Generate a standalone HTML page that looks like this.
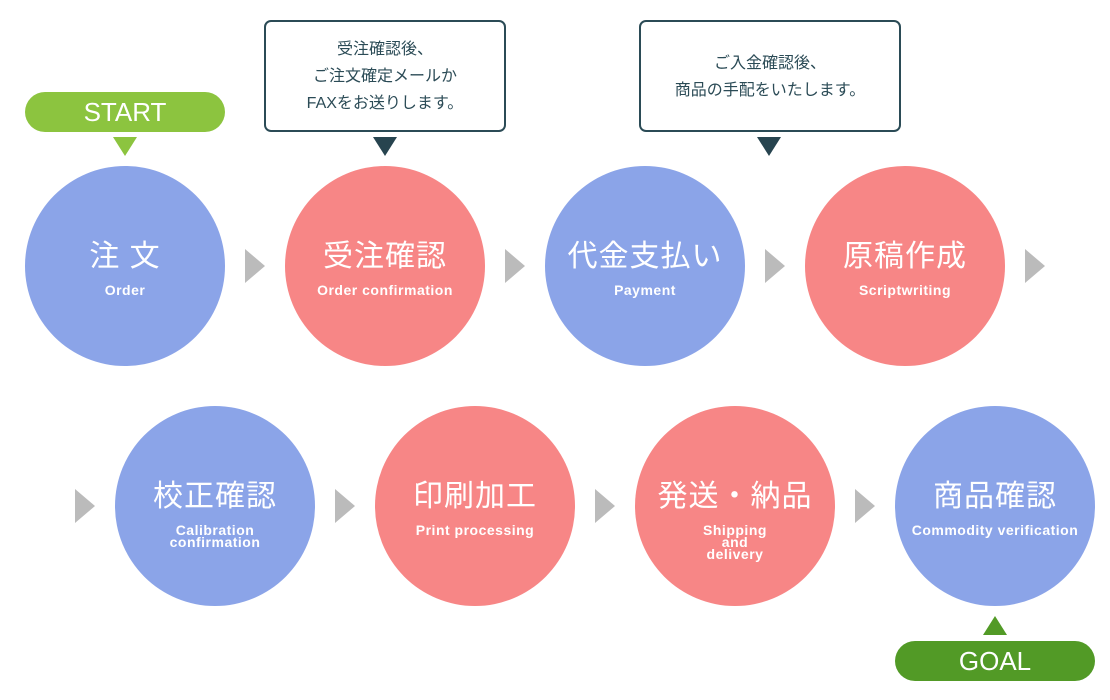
<!DOCTYPE html>
<html><head><meta charset="utf-8"><style>
body{margin:0;width:1110px;height:700px;background:#fff;position:relative;overflow:hidden;font-family:"Liberation Sans","Noto Sans CJK JP",sans-serif}
.a{position:absolute}
.c{position:absolute;width:200px;height:200px;border-radius:50%;color:#fff;text-align:center}
.b{background:#8ba4e8}.p{background:#f78686}
.m{position:absolute;left:0;width:200px;top:71px;font-size:30px;line-height:40px;letter-spacing:1px}
.s{position:absolute;left:0;width:200px;top:118px;font-size:14px;font-weight:bold;line-height:12px;letter-spacing:0.5px}
.ar{position:absolute;width:0;height:0;border-top:17px solid transparent;border-bottom:17px solid transparent;border-left:20px solid #bbb}
.box{position:absolute;border:2px solid #2b4b56;border-radius:7px;background:#fff;color:#2b4b56;font-size:16px;line-height:27px;text-align:center;box-sizing:border-box}
.td{position:absolute;width:0;height:0;border-left:12px solid transparent;border-right:12px solid transparent;border-top:19px solid #27444f}
.pill{position:absolute;width:200px;height:40px;border-radius:20px;color:#fff;font-size:26px;line-height:40px;text-align:center}
</style></head><body>
<div class="pill" style="left:25px;top:92px;background:#8cc43f">START</div>
<div class="td" style="left:113px;top:137px;border-top-color:#8cc43f"></div>
<div class="box" style="left:264px;top:20px;width:242px;height:112px;padding-top:14px">受注確認後、<br>ご注文確定メールか<br>FAXをお送りします。</div>
<div class="td" style="left:373px;top:137px"></div>
<div class="box" style="left:639px;top:20px;width:262px;height:112px;padding-top:28px">ご入金確認後、<br>商品の手配をいたします。</div>
<div class="td" style="left:757px;top:137px"></div>

<div class="c b" style="left:25px;top:166px"><div class="m">注 文</div><div class="s">Order</div></div>
<div class="c p" style="left:285px;top:166px"><div class="m">受注確認</div><div class="s">Order confirmation</div></div>
<div class="c b" style="left:545px;top:166px"><div class="m">代金支払い</div><div class="s">Payment</div></div>
<div class="c p" style="left:805px;top:166px"><div class="m">原稿作成</div><div class="s">Scriptwriting</div></div>
<div class="ar" style="left:245px;top:249px"></div>
<div class="ar" style="left:505px;top:249px"></div>
<div class="ar" style="left:765px;top:249px"></div>
<div class="ar" style="left:1025px;top:249px"></div>

<div class="c b" style="left:115px;top:406px"><div class="m">校正確認</div><div class="s">Calibration<br>confirmation</div></div>
<div class="c p" style="left:375px;top:406px"><div class="m">印刷加工</div><div class="s">Print processing</div></div>
<div class="c p" style="left:635px;top:406px"><div class="m">発送・納品</div><div class="s">Shipping<br>and<br>delivery</div></div>
<div class="c b" style="left:895px;top:406px"><div class="m">商品確認</div><div class="s">Commodity verification</div></div>
<div class="ar" style="left:75px;top:489px"></div>
<div class="ar" style="left:335px;top:489px"></div>
<div class="ar" style="left:595px;top:489px"></div>
<div class="ar" style="left:855px;top:489px"></div>

<div class="a" style="left:983px;top:616px;width:0;height:0;border-left:12px solid transparent;border-right:12px solid transparent;border-bottom:19px solid #529a26"></div>
<div class="pill" style="left:895px;top:641px;background:#529a26">GOAL</div>
</body></html>
